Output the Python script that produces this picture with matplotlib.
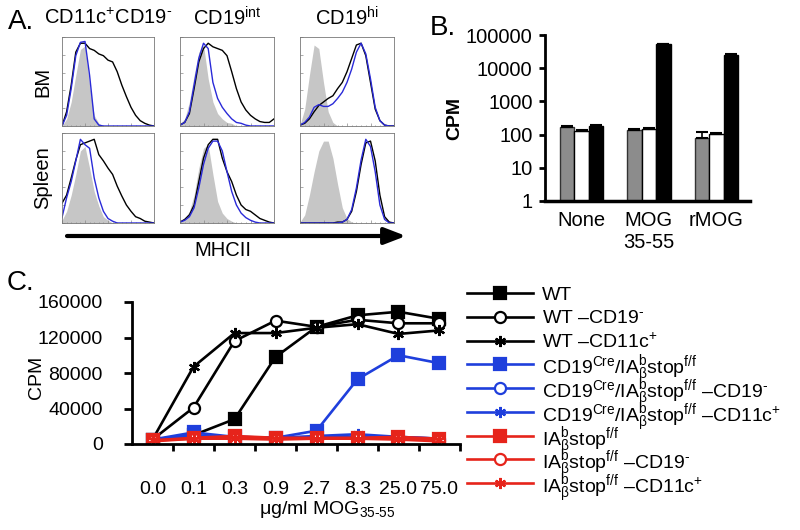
import numpy as np
import matplotlib
matplotlib.use("Agg")
import matplotlib.pyplot as plt
from matplotlib.patches import FancyArrowPatch
from matplotlib.ticker import MultipleLocator, NullLocator

plt.rcParams['font.family'] = ['Liberation Sans', 'DejaVu Sans']
plt.rcParams['mathtext.fontset'] = 'custom'
plt.rcParams['mathtext.rm'] = 'Liberation Sans'
plt.rcParams['mathtext.it'] = 'Liberation Sans'
plt.rcParams['mathtext.default'] = 'regular'

# ---- panel A: MHCII histograms (normalised) ----
hist_x = [0.0, 0.05, 0.1, 0.15, 0.2, 0.25, 0.3, 0.35, 0.4, 0.45, 0.5,
          0.55, 0.6, 0.65, 0.7, 0.75, 0.8, 0.85, 0.9, 0.95, 1.0]

bm_dc_gray = [0, .08, .27, .57, .86, .90, .46, .12, .03, 0, 0, 0, 0, 0, 0, 0, 0, 0, 0, 0, 0]
bm_dc_blue = [0, .12, .42, .79, .94, .95, .57, .08, .01, 0, 0, 0, 0, 0, 0, 0, 0, 0, 0, 0, 0]
bm_dc_black = [0, .16, .46, .83, .93, .93, .87, .85, .81, .79, .74, .72, .61, .46, .33, .21, .12, .06, .03, .01, 0]

bm_int_gray = [.03, .08, .27, .57, .83, .91, .53, .27, .14, .08, .04, .03, 0, 0, 0, 0, 0, 0, 0, 0, 0]
bm_int_blue = [.01, .04, .16, .46, .76, .93, .87, .49, .31, .21, .14, .08, .04, .03, .01, 0, 0, 0, 0, 0, 0]
bm_int_black = [.01, .04, .14, .42, .72, .87, .93, .89, .87, .85, .79, .61, .42, .27, .18, .12, .08, .05, .04, .04, .08]

bm_hi_gray = [.01, .19, .57, .91, .87, .49, .16, .04, 0, 0, 0, 0, 0, 0, 0, 0, 0, 0, 0, 0, 0]
bm_hi_blue = [.01, .04, .10, .21, .24, .22, .22, .25, .31, .38, .49, .64, .83, .93, .81, .53, .21, .06, .01, 0, 0]
bm_hi_black = [.01, .03, .08, .16, .23, .27, .31, .34, .42, .49, .61, .76, .91, .93, .79, .49, .19, .06, .01, 0, 0]

sp_dc_gray = [.03, .13, .31, .54, .80, .85, .61, .35, .19, .07, .03, 0, 0, 0, 0, 0, 0, 0, 0, 0, 0]
sp_dc_blue = [.06, .28, .46, .69, .93, .87, .83, .50, .28, .13, .05, .02, 0, 0, 0, 0, 0, 0, 0, 0, 0]
sp_dc_black = [.22, .31, .50, .70, .87, .89, .91, .93, .76, .69, .61, .54, .41, .30, .20, .13, .07, .05, .02, .01, 0]

sp_int_gray = [.01, .05, .13, .31, .61, .83, .87, .54, .24, .11, .05, .02, 0, 0, 0, 0, 0, 0, 0, 0, 0]
sp_int_blue = [.01, .03, .07, .17, .39, .65, .83, .91, .91, .80, .57, .35, .20, .11, .06, .03, .01, 0, 0, 0, 0]
sp_int_black = [.01, .04, .09, .20, .46, .72, .87, .93, .93, .72, .57, .46, .31, .20, .15, .13, .09, .05, .03, .01, 0]

sp_hi_gray = [.01, .09, .31, .57, .80, .91, .91, .72, .43, .17, .05, .01, 0, 0, 0, 0, 0, 0, 0, 0, 0]
sp_hi_blue = [0, 0, 0, 0, 0, 0, 0, 0, 0, .01, .04, .15, .39, .70, .93, .85, .57, .20, .04, 0, 0]
sp_hi_black = [0, 0, 0, 0, 0, 0, 0, 0, .01, .01, .04, .13, .35, .65, .89, .91, .69, .31, .07, .01, 0]

col_titles = ["CD11c$^{+}$CD19$^{\\text{-}}$", "CD19$^{int}$", "CD19$^{hi}$"]
row_titles = ["BM", "Spleen"]

# ---- panel B: CPM, log scale ----
b_groups = ["None", "MOG\n35-55", "rMOG"]
b_gray = [174, 141, 81]
b_gray_err = [8, 6, 42]
b_white = [125, 151, 107]
b_white_err = [10, 5, 4]
b_black = [186, 52500, 25000]
b_black_err = [8, 2000, 1500]

# ---- panel C: proliferation vs dose ----
doses = ["0.0", "0.1", "0.3", "0.9", "2.7", "8.3", "25.0", "75.0"]
wt = [5000, 10000, 28000, 98000, 132000, 145000, 149000, 141000]
wt_cd19 = [5000, 41000, 116000, 139000, 132000, 140000, 136000, 136000]
wt_cd11c = [5000, 87000, 125000, 125000, 131000, 135000, 124000, 128000]
cre = [5000, 13000, 8000, 7000, 15000, 73000, 100000, 91000]
cre_cd19 = [5000, 8000, 7000, 6000, 8000, 8000, 8000, 6000]
cre_cd11c = [5000, 10000, 8000, 7000, 9000, 11000, 8000, 6000]
stop = [4000, 7000, 9000, 7000, 7000, 7000, 8000, 6000]
stop_cd19 = [3000, 6000, 6000, 5000, 6000, 6000, 5000, 3000]
stop_cd11c = [4000, 6000, 7000, 6000, 6000, 6000, 6000, 5000]

cre_lbl = "CD19$^{Cre}$/IA$_{\\beta}^{b}$stop$^{f/f}$"
stop_lbl = "IA$_{\\beta}^{b}$stop$^{f/f}$"
minus19 = " \u2013CD19$^{\\text{-}}$"
minus11 = " \u2013CD11c$^{+}$"
c_labels = ["WT", "WT" + minus19, "WT" + minus11,
            cre_lbl, cre_lbl + minus19, cre_lbl + minus11,
            stop_lbl, stop_lbl + minus19, stop_lbl + minus11]

BLUE = '#1f3fdc'
RED = '#e6241b'

W, H = 800, 530
fig = plt.figure(figsize=(8, 5.3), dpi=100)


def box(l, t, r, b):
    return [l / W, 1 - b / H, (r - l) / W, (b - t) / H]


def px(x, y):
    return x / W, 1 - y / H


# panel A
hists = [[(bm_dc_gray, bm_dc_blue, bm_dc_black),
          (bm_int_gray, bm_int_blue, bm_int_black),
          (bm_hi_gray, bm_hi_blue, bm_hi_black)],
         [(sp_dc_gray, sp_dc_blue, sp_dc_black),
          (sp_int_gray, sp_int_blue, sp_int_black),
          (sp_hi_gray, sp_hi_blue, sp_hi_black)]]
cols_x = [(62, 154), (180, 274), (300, 394)]
rows_y = [(37, 126), (133, 223)]
for r, (t, b) in enumerate(rows_y):
    for c, (l, rr) in enumerate(cols_x):
        ax = fig.add_axes(box(l, t, rr, b))
        gray, blue, black = hists[r][c]
        ax.fill_between(hist_x, gray, color='#c6c6c6', lw=0)
        ax.plot(hist_x, black, color='black', lw=1.0)
        ax.plot(hist_x, blue, color='#2a2ad8', lw=1.0)
        ax.set_xlim(0, 1)
        ax.set_ylim(0, 1)
        for s in ax.spines.values():
            s.set_color('#777777')
            s.set_linewidth(0.6)
        ax.xaxis.set_major_locator(MultipleLocator(0.25))
        ax.xaxis.set_minor_locator(MultipleLocator(0.05))
        ax.yaxis.set_major_locator(MultipleLocator(0.2))
        ax.tick_params(which='both', direction='in', color='#888888',
                       labelbottom=False, labelleft=False, length=2, width=0.5)
        ax.tick_params(which='minor', length=1)

for (l, rr), title in zip(cols_x, col_titles):
    fig.text(*px((l + rr) / 2, 18), title, fontsize=14.5, ha='center', va='center')
for (t, b), title in zip(rows_y, row_titles):
    fig.text(*px(43, (t + b) / 2), title, fontsize=14.5, ha='center', va='center',
             rotation=90)

fig.add_artist(FancyArrowPatch(px(67, 236), px(406, 236), transform=fig.transFigure,
                               arrowstyle='-|>,head_length=0.65,head_width=0.25',
                               mutation_scale=20, lw=3, color='black',
                               shrinkA=0, shrinkB=0))
fig.text(*px(223, 251), "MHCII", fontsize=14.5, ha='center', va='center')
fig.text(*px(8, 22), "A.", fontsize=20, ha='left', va='center')

# panel B
axb = fig.add_axes(box(545, 35, 750, 201))
xb = np.arange(len(b_groups))
w = 0.215
axb.bar(xb - w, b_gray, w, color='#8c8c8c', edgecolor='#333333', lw=1)
axb.bar(xb, b_white, w, color='white', edgecolor='black', lw=1)
axb.bar(xb + w, b_black, w, color='black', edgecolor='black', lw=1)
for off, vals, errs in [(-w, b_gray, b_gray_err), (0, b_white, b_white_err),
                        (w, b_black, b_black_err)]:
    axb.errorbar(xb + off, vals, yerr=[[0] * len(vals), errs], fmt='none',
                 ecolor='black', elinewidth=1.2, capsize=4, capthick=1.5)
axb.set_yscale('log')
axb.set_ylim(1, 1e5)
axb.set_xlim(-0.542, 2.50)
axb.set_yticks([1, 10, 100, 1000, 10000, 100000],
               ["1", "10", "100", "1000", "10000", "100000"])
axb.yaxis.set_minor_locator(NullLocator())
axb.set_xticks(xb, b_groups)
axb.tick_params(axis='x', length=0, pad=7, labelsize=14.5)
axb.tick_params(axis='y', length=4, width=2, pad=5, labelsize=14.5)
axb.spines['top'].set_visible(False)
axb.spines['right'].set_visible(False)
axb.spines['left'].set_linewidth(2)
axb.spines['bottom'].set_linewidth(2.5)
axb.set_ylabel("CPM", fontsize=14, fontweight='bold')
axb.yaxis.set_label_coords(-0.40, 0.5)
fig.text(*px(430, 28), "B.", fontsize=20, ha='left', va='center')

# panel C
axc = fig.add_axes(box(132, 302, 460, 444))
xc = np.arange(len(doses))
series = [(wt, 'black', 's', 'black'), (wt_cd19, 'black', 'o', 'white'),
          (wt_cd11c, 'black', (6, 2, 0), 'black'),
          (cre, BLUE, 's', BLUE), (cre_cd19, BLUE, 'o', 'white'),
          (cre_cd11c, BLUE, (6, 2, 0), BLUE),
          (stop, RED, 's', RED), (stop_cd19, RED, 'o', 'white'),
          (stop_cd11c, RED, (6, 2, 0), RED)]
for vals, col, mk, fc in series:
    axc.plot(xc, vals, color=col, lw=1.9, marker=mk, markersize=8,
             markerfacecolor=fc, markeredgecolor=col, markeredgewidth=1.6)
axc.set_xlim(-0.5, 7.5)
axc.set_ylim(0, 160000)
axc.set_yticks([0, 40000, 80000, 120000, 160000],
               ["0", "40000", "80000", "120000", "160000"])
axc.set_xticks(xc, doses)
axc.set_xticks(np.arange(0.5, 8, 1), minor=True)
axc.tick_params(axis='x', which='major', length=0, pad=27, labelsize=14)
axc.tick_params(axis='x', which='minor', length=5, width=2)
axc.tick_params(axis='y', length=6, width=2, pad=15, labelsize=14)
axc.spines['top'].set_visible(False)
axc.spines['right'].set_visible(False)
axc.spines['left'].set_linewidth(2)
axc.spines['bottom'].set_linewidth(2)
axc.set_ylabel("CPM", fontsize=14)
axc.yaxis.set_label_coords(-0.265, 0.47)
axc.set_xlabel("\u03bcg/ml MOG$_{35\\text{-}55}$", fontsize=14)
axc.xaxis.set_label_coords(0.595, -0.39)
fig.text(*px(7, 283), "C.", fontsize=20, ha='left', va='center')

# legend for panel C, rows evenly spaced like the original
axl = fig.add_axes([0, 0, 1, 1], zorder=-1)
axl.set_xlim(0, W)
axl.set_ylim(H, 0)
axl.axis('off')
for i, ((vals, col, mk, fc), lbl) in enumerate(zip(series, c_labels)):
    y = 293 + 23.75 * i
    axl.plot([467, 500, 533], [y, y, y], color=col, lw=1.9, marker=mk,
             markersize=8, markevery=[1], markerfacecolor=fc,
             markeredgecolor=col, markeredgewidth=1.6)
    axl.text(542, y, lbl, fontsize=14, ha='left', va='center_baseline')

fig.savefig("out.png", dpi=100)
